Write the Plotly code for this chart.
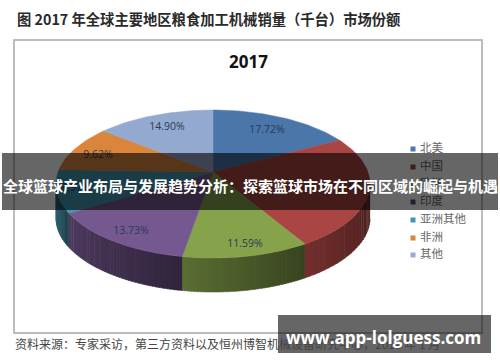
import math
import plotly.graph_objects as go

regions = ["北美", "中国", "欧洲", "印度", "亚洲其他", "非洲", "其他"]
shares = [17.72, 23.47, 11.59, 13.73, 8.97, 9.62, 14.90]
share_labels = ["17.72%", "23.47%", "11.59%", "13.73%", "8.97%", "9.62%", "14.90%"]
colors = ["#4a76aa", "#a94643", "#86a34b", "#75588f", "#3f97ae", "#da853c", "#93a9cf"]
legend_colors = ["#4a76aa", "#a94643", "#86a34b", "#5b4a78", "#3f97ae", "#da853c", "#a3a5cb"]
label_xy = [(267, 130), (358, 187), (245, 244), (131, 231), (76, 188), (98, 155), (167, 127)]

header = "图 2017 年全球主要地区粮食加工机械销量（千台）市场份额"
footer = "资料来源：专家采访，第三方资料以及恒州博智机械设备研究中心，2019 年 1 月"
banner = "全球篮球产业布局与发展趋势分析：探索篮球市场在不同区域的崛起与机遇"
site = "www.app-lolguess.com"

CJK = "Noto Sans CJK SC"
# ellipse of the top face, and the apex that sits above its centre (perspective)
CX, EY, RX, RY = 213, 184, 157, 74
APEX_Y = 172
DIR_UP, DIR_DOWN = 80, 76
DEPTH = 34


def pt(a, dy=0.0):
    """Point on the rim for slice angle a, measured clockwise from the top."""
    dx = RX * math.sin(a)
    c = math.cos(a)
    dv = -(DIR_UP if c > 0 else DIR_DOWN) * c
    off = APEX_Y - EY
    qa = (dx / RX) ** 2 + (dv / RY) ** 2
    qb = 2 * off * dv / RY ** 2
    qc = (off / RY) ** 2 - 1
    s = (-qb + math.sqrt(qb * qb - 4 * qa * qc)) / (2 * qa)
    return CX + dx * s, APEX_Y + dv * s + dy


def shade(hex_color, f):
    r, g, b = (int(hex_color[i:i + 2], 16) for i in (1, 3, 5))
    return f"rgb({int(r * f)},{int(g * f)},{int(b * f)})"


def poly(xs, ys, color):
    return go.Scatter(x=xs, y=ys, mode="lines", fill="toself", fillcolor=color,
                      line=dict(color=color, width=0.5), hoverinfo="skip", showlegend=False)


fig = go.Figure()
total = sum(shares)
bounds = [0.0]
for v in shares:
    bounds.append(bounds[-1] + v / total * 2 * math.pi)

# side walls, visible along the lower half of the rim
for i, col in enumerate(colors):
    a0, a1 = bounds[i], bounds[i + 1]
    n = 40
    samples = [a0 + (a1 - a0) * k / n for k in range(n + 1)]
    visible = [a for a in samples if pt(a)[1] >= EY]
    if len(visible) < 2:
        continue
    m = len(visible) - 1
    for k in range(m):
        arc = [visible[k], visible[k + 1] + 0.004]
        top = [pt(a) for a in arc]
        bot = [pt(a, DEPTH) for a in reversed(arc)]
        f = 0.42 + 0.26 * k / m
        fig.add_trace(poly([p[0] for p in top + bot], [p[1] for p in top + bot], shade(col, f)))

# top faces
for i, col in enumerate(colors):
    steps = max(int((bounds[i + 1] - bounds[i]) * 40), 4)
    arc = [pt(bounds[i] + (bounds[i + 1] - bounds[i]) * j / steps) for j in range(steps + 1)]
    pts = [(CX, APEX_Y)] + arc + [(CX, APEX_Y)]
    fig.add_trace(poly([p[0] for p in pts], [p[1] for p in pts], col))

# slice labels
fig.add_trace(go.Scatter(x=[p[0] for p in label_xy], y=[p[1] for p in label_xy], mode="text",
                         text=share_labels, textposition="middle center",
                         textfont=dict(family="Open Sans", size=10.5, color="#2b3a55"),
                         hoverinfo="skip", showlegend=False))

# legend
legend_y = [149, 167, 184, 202, 220, 238, 255]
fig.add_trace(go.Scatter(x=[413] * len(regions), y=legend_y, mode="markers",
                         marker=dict(symbol="square", size=5, color=legend_colors),
                         hoverinfo="skip", showlegend=False))
fig.add_trace(go.Scatter(x=[420] * len(regions), y=legend_y, mode="text",
                         text=regions, textposition="middle right",
                         textfont=dict(family=CJK, size=11.5, color="#666666"),
                         hoverinfo="skip", showlegend=False))

shapes = [
    dict(type="rect", x0=14, x1=482, y0=40, y1=333, layer="below",
         line=dict(color="#a8a8a8", width=1.5), fillcolor="#ffffff"),
    dict(type="rect", x0=2, x1=498, y0=153, y1=210, layer="above",
         line=dict(width=0), fillcolor="rgba(0,0,0,0.6)"),
    dict(type="rect", x0=278, x1=491, y0=315, y1=353, layer="above",
         line=dict(width=0), fillcolor="rgba(0,0,0,0.6)"),
]

annotations = [
    dict(x=15, y=18, text=f"<b>{header}</b>", xanchor="left",
         font=dict(family=CJK, size=14.3, color="#2a2a2a")),
    dict(x=248, y=61, text="<b>2017</b>", font=dict(family="Open Sans", size=17, color="#111111")),
    dict(x=13, y=343, text=footer, xanchor="left", font=dict(family=CJK, size=12, color="#444444")),
    dict(x=250, y=185, text=f"<b>{banner}</b>", font=dict(family=CJK, size=15, color="#ffffff")),
    dict(x=383, y=337, text=f"<b>{site}</b>", font=dict(family="Open Sans", size=17, color="#ffffff")),
]
for a in annotations:
    a.update(xref="x", yref="y", showarrow=False)

fig.update_layout(
    width=500, height=362, margin=dict(l=0, r=0, t=0, b=0),
    paper_bgcolor="#ffffff", plot_bgcolor="#ffffff",
    xaxis=dict(range=[0, 500], visible=False, fixedrange=True),
    yaxis=dict(range=[362, 0], visible=False, fixedrange=True),
    shapes=shapes, annotations=annotations, showlegend=False,
)
fig.write_html("out.html", config=dict(displayModeBar=False),
               post_script="document.body.style.margin='0';document.documentElement.style.overflow='hidden';")
